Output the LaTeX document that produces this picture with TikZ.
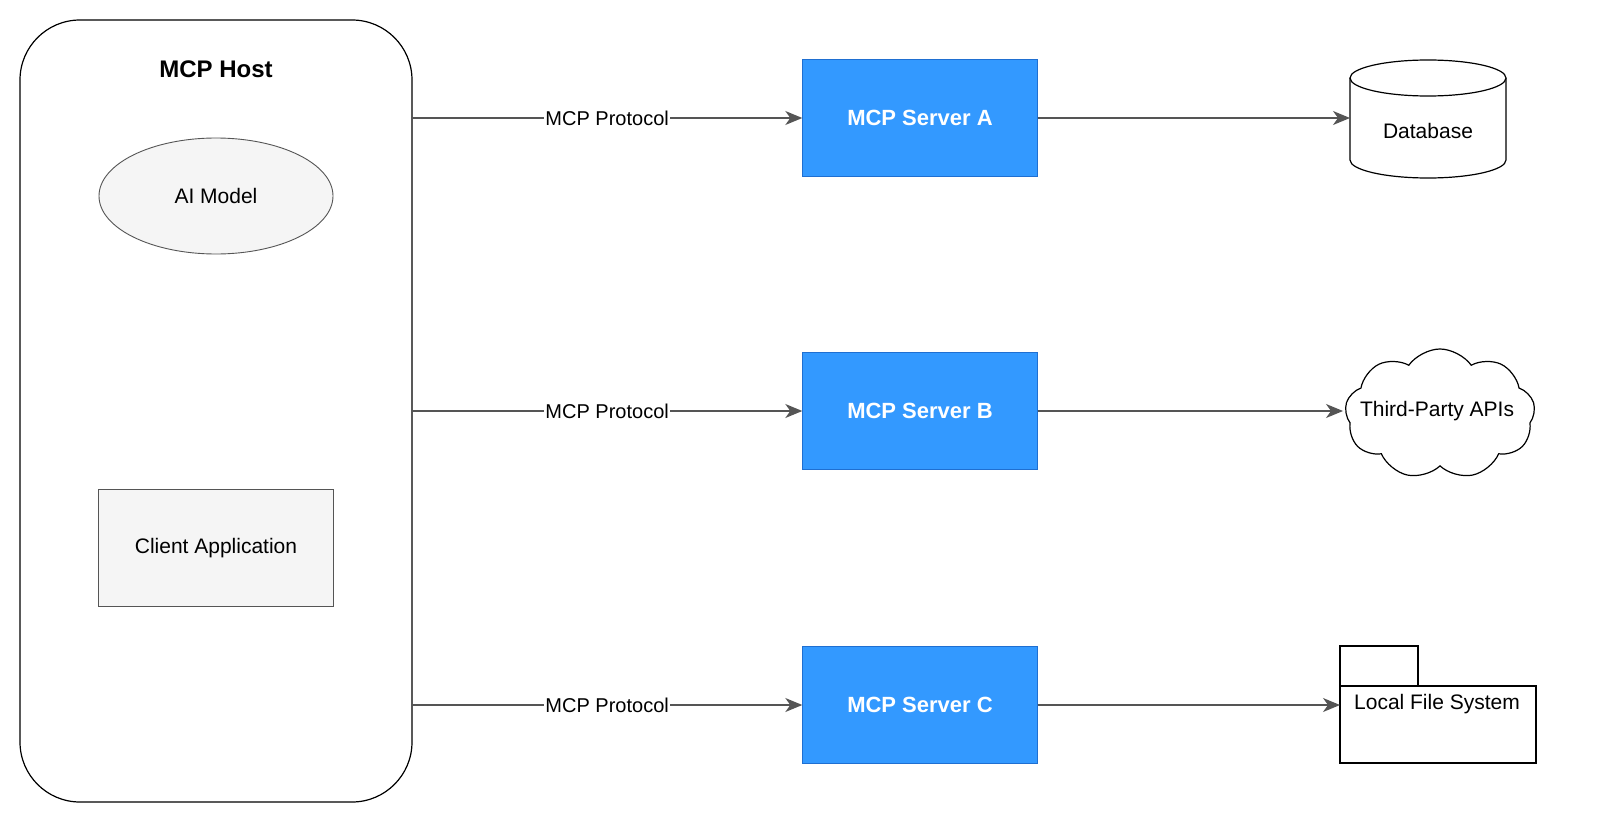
\documentclass[tikz,border=0pt]{standalone}
\usepackage{fontspec}
\setmainfont{Liberation Sans}
\usetikzlibrary{shapes.geometric,shapes.symbols,arrows.meta}
\definecolor{srv}{HTML}{3399FF}
\definecolor{srvd}{HTML}{1F6FD1}
\definecolor{lgt}{HTML}{F5F5F5}
\definecolor{edg}{HTML}{555555}
\begin{document}
\begin{tikzpicture}[x=1pt,y=-1pt,
  server/.style={draw=srvd,fill=srv,minimum width=235pt,minimum height=117pt,inner sep=0pt,text=white,font=\fontsize{22}{26}\selectfont\bfseries},
  light/.style={draw=edg,fill=lgt,line width=0.9pt,font=\fontsize{21}{25}\selectfont},
  conn/.style={draw=edg,line width=1.3pt,-{Stealth[length=17pt,width=14pt,inset=5pt]}},
  lab/.style={fill=white,inner sep=1pt,font=\fontsize{20}{24}\selectfont}]
\draw[line width=1.2pt,rounded corners=60pt] (20,20) rectangle (412,802);
\coordinate (h1) at (412,118);
\coordinate (h2) at (412,411);
\coordinate (h3) at (412,705);
\node[font=\fontsize{24}{28}\selectfont\bfseries] (host) at (216,69) {MCP Host};
\node[light,ellipse,minimum width=234pt,minimum height=116pt] (ai) at (216,196) {AI Model};
\node[light,minimum width=235pt,minimum height=117pt] (client) at (216,548) {Client Application};
\node[server] (A) at (920,118) {MCP Server A};
\node[server] (B) at (920,411) {MCP Server B};
\node[server] (C) at (920,705) {MCP Server C};
\foreach \h/\s in {h1/A,h2/B,h3/C}{
  \draw[conn] (\h) -- node[lab]{MCP Protocol} (\s);
}
% database
\draw[line width=1.2pt,fill=white] (1350,78) -- (1350,160) arc[start angle=180,end angle=0,x radius=78,y radius=18] -- (1506,78);
\draw[line width=1.2pt,fill=white] (1428,78) ellipse[x radius=78,y radius=18];
\node[font=\fontsize{21}{25}\selectfont] (db) at (1428,131) {Database};
\coordinate (dbw) at (1350,118);
\draw[conn] (A) -- (dbw);
% cloud
\node[cloud,draw,line width=1.2pt,cloud puffs=9,cloud puff arc=110,aspect=1.5,minimum width=190pt,minimum height=130pt] (cl) at (1440,414) {};
\node[font=\fontsize{21}{25}\selectfont] (api) at (1437,411) {Third-Party APIs};
\coordinate (clw) at (1343,411);
\draw[conn] (B) -- (clw);
% folder
\draw[line width=1.2pt] (1340,686) -- (1340,646) -- (1418,646) -- (1418,686);
\draw[line width=1.2pt] (1340,686) rectangle (1536,763);
\node[font=\fontsize{21}{25}\selectfont] (fs) at (1437,704) {Local File System};
\coordinate (fsw) at (1340,705);
\draw[conn] (C) -- (fsw);
\pgfresetboundingbox
\useasboundingbox (0,0) rectangle (1600,840);
\end{tikzpicture}
\end{document}
